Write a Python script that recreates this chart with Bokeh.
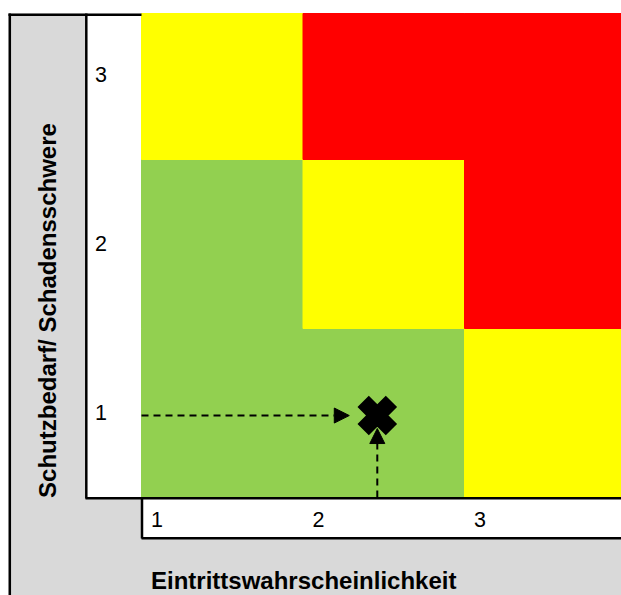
import math
from bokeh.plotting import figure
from bokeh.models import Range1d, Arrow, NormalHead
from bokeh.core.properties import value
from bokeh.embed import file_html
from bokeh.resources import INLINE

# ---------------- data ----------------
likelihood_labels = ["1", "2", "3"]          # Eintrittswahrscheinlichkeit (columns)
severity_labels = ["1", "2", "3"]            # Schutzbedarf / Schadensschwere (rows, bottom -> top)
# risk class of each cell: rows = severity 1..3, columns = likelihood 1..3
risk_matrix = [
    ["green", "green", "yellow"],
    ["green", "yellow", "red"],
    ["yellow", "red", "red"],
]
risk_colors = {"green": "#92D050", "yellow": "#FFFF00", "red": "#FF0000"}
# assessed risk position (cell units: 0 = start of class "1")
point_likelihood = [1.46]
point_severity = [0.485]
x_title = "Eintrittswahrscheinlichkeit"
y_title = "Schutzbedarf/ Schadensschwere"

# ---------------- layout ----------------
W, H = 621, 595
PX_X, PX_Y = 161.5, 169.0          # pixels per cell
OX, OY = 141.0, 497.0              # page position of grid origin


def ux(px):
    return (px - OX) / PX_X


def uy(py):
    return (OY - py) / PX_Y


FONT = value("Liberation Sans")

p = figure(width=W, height=H,
           x_range=Range1d(ux(0), ux(W)), y_range=Range1d(uy(H), uy(0)),
           output_backend="svg", toolbar_location=None,
           x_axis_location=None, y_axis_location=None,
           min_border_left=0, min_border_right=0, min_border_top=0, min_border_bottom=0,
           outline_line_color=None, background_fill_color="white", border_fill_color="white")
p.xgrid.visible = False
p.ygrid.visible = False

far_r, far_b = ux(700), uy(700)
top_edge = uy(13)
# grey frame and white axis boxes
p.quad(left=[ux(8)], right=[far_r], top=[top_edge], bottom=[far_b],
       fill_color="#D9D9D9", line_color=None)
p.quad(left=[ux(85)], right=[0], top=[top_edge], bottom=[0],
       fill_color="white", line_color=None)
p.quad(left=[0], right=[far_r], top=[0], bottom=[uy(538)],
       fill_color="white", line_color=None)

# risk cells (top row cut at the top edge of the chart)
lefts, rights, bottoms, tops, colors = [], [], [], [], []
for r, row in enumerate(risk_matrix):
    for c, cls in enumerate(row):
        lefts.append(c); rights.append(c + 1)
        bottoms.append(r); tops.append(min(r + 1, top_edge))
        colors.append(risk_colors[cls])
p.quad(left=lefts, right=rights, bottom=bottoms, top=tops,
       fill_color=colors, line_color=colors, line_width=1)

# frame lines
x0s = [ux(9.3), ux(8), ux(85.8), ux(85), ux(141.5), ux(141)]
x1s = [ux(9.3), ux(141), ux(85.8), far_r, ux(141.5), far_r]
y0s = [top_edge, uy(14.2), top_edge, uy(497.8), uy(497), uy(537.8)]
y1s = [far_b, uy(14.2), uy(498), uy(497.8), uy(538), uy(537.8)]
p.segment(x0=x0s, y0=y0s, x1=x1s, y1=y1s, line_color="black", line_width=2.5)

# tick labels
p.text(x=[ux(85)] * len(severity_labels), y=[i + 0.5 for i in range(len(severity_labels))],
       text=severity_labels, text_font=FONT, text_font_size="21.5px", text_color="black",
       text_align="left", text_baseline="middle", x_offset=9.5, y_offset=-1)
p.text(x=list(range(len(likelihood_labels))), y=[uy(519)] * len(likelihood_labels),
       text=likelihood_labels, text_font=FONT, text_font_size="21.5px", text_color="black",
       text_align="left", text_baseline="middle", x_offset=9.5)

# axis titles
p.text(x=[0], y=[uy(580)], text=[x_title], text_font=FONT, text_font_size="24px",
       text_font_style="bold", text_color="black", text_align="left",
       text_baseline="alphabetic", x_offset=9.5)
p.text(x=[(ux(8) + ux(85)) / 2], y=[uy(310)], text=[y_title], text_font=FONT,
       text_font_size="24px", text_font_style="bold", text_color="black",
       text_align="center", text_baseline="middle", angle=math.pi / 2)

# arrows to the risk point
px, py = point_likelihood[0], point_severity[0]
p.add_layout(Arrow(end=NormalHead(size=15, fill_color="black", line_color="black", line_width=1),
                   x_start=0, y_start=py, x_end=px - 28 / PX_X, y_end=py,
                   line_color="black", line_width=2, line_dash="7 5"))
p.add_layout(Arrow(end=NormalHead(size=15, fill_color="black", line_color="black", line_width=1),
                   x_start=px, y_start=0, x_end=px, y_end=py - 13 / PX_Y,
                   line_color="black", line_width=2, line_dash="7 5"))

# risk marker
p.scatter(x=point_likelihood, y=point_severity, marker="x", size=40,
          line_width=16, line_color="black")

open("out.html", "w").write(file_html(p, INLINE))
